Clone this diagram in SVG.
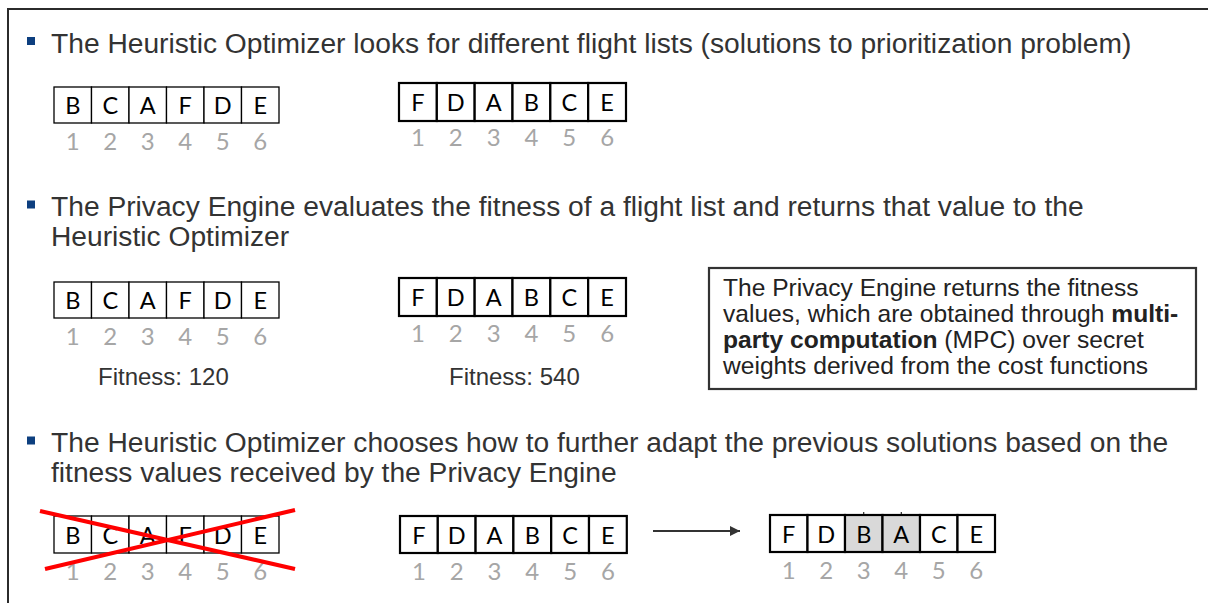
<svg xmlns="http://www.w3.org/2000/svg" width="1208" height="603" viewBox="0 0 1208 603">
<style>
.bg{fill:#ffffff}
.frame{stroke:#2b2b2b;stroke-width:2;fill:none}
.bul{fill:#0d3f7f}
.ttl{font-family:"Liberation Sans",Arial,sans-serif;font-size:28.2px;fill:#333333}
.thin{fill:#ffffff;stroke:#000000;stroke-width:1.3}
.thick{fill:#ffffff;stroke:#000000;stroke-width:2.2}
.hl{fill:#d9d9d9}
.let{font-family:Lato,"Open Sans",sans-serif;font-size:23.5px;fill:#000000;text-anchor:middle}
.num{font-family:Lato,"Open Sans",sans-serif;font-size:24px;fill:#a6a6a6;text-anchor:middle}
.fit{font-family:"Liberation Sans",Arial,sans-serif;font-size:24px;fill:#333333}
.box{fill:#ffffff;stroke:#333333;stroke-width:2.2}
.boxt{font-family:"Liberation Sans",Arial,sans-serif;font-size:24.6px;fill:#222222}
.cross{stroke:#ff0000;stroke-width:4;fill:none}
.conn{stroke:#333333;stroke-width:2;fill:none}
</style>
<defs>
<marker id="ah" viewBox="0 0 10 10" refX="10" refY="5" markerWidth="5.5" markerHeight="5" orient="auto" markerUnits="strokeWidth">
<path d="M0,0 L10,5 L0,10 z" fill="#333333"/>
</marker>
</defs>
<rect class="bg" x="0" y="0" width="1208" height="603"/>
<g id="frame">
<path class="frame" d="M8,603 L8,9 L1208,9"/>
</g>

<g id="bullet1">
<rect class="bul" x="27" y="37" width="8" height="8"/>
<text class="ttl" x="51" y="53">The Heuristic Optimizer looks for different flight lists (solutions to prioritization problem)</text>
</g>

<g id="list1a">
<rect class="thin" x="54" y="87" width="37.5" height="36"/>
<rect class="thin" x="91.5" y="87" width="37.5" height="36"/>
<rect class="thin" x="129" y="87" width="37.5" height="36"/>
<rect class="thin" x="166.5" y="87" width="37.5" height="36"/>
<rect class="thin" x="204" y="87" width="37.5" height="36"/>
<rect class="thin" x="241.5" y="87" width="37.5" height="36"/>
<text class="let" x="72.75" y="113.5">B</text><text class="let" x="110.25" y="113.5">C</text><text class="let" x="147.75" y="113.5">A</text><text class="let" x="185.25" y="113.5">F</text><text class="let" x="222.75" y="113.5">D</text><text class="let" x="260.25" y="113.5">E</text>
<text class="num" x="72.75" y="150">1</text><text class="num" x="110.25" y="150">2</text><text class="num" x="147.75" y="150">3</text><text class="num" x="185.25" y="150">4</text><text class="num" x="222.75" y="150">5</text><text class="num" x="260.25" y="150">6</text>
</g>

<g id="list1b">
<rect class="thick" x="399" y="83" width="37.83" height="38"/>
<rect class="thick" x="436.83" y="83" width="37.83" height="38"/>
<rect class="thick" x="474.67" y="83" width="37.83" height="38"/>
<rect class="thick" x="512.5" y="83" width="37.83" height="38"/>
<rect class="thick" x="550.33" y="83" width="37.83" height="38"/>
<rect class="thick" x="588.17" y="83" width="37.83" height="38"/>
<text class="let" x="417.9" y="110.5">F</text><text class="let" x="455.75" y="110.5">D</text><text class="let" x="493.6" y="110.5">A</text><text class="let" x="531.4" y="110.5">B</text><text class="let" x="569.25" y="110.5">C</text><text class="let" x="607.1" y="110.5">E</text>
<text class="num" x="417.9" y="146">1</text><text class="num" x="455.75" y="146">2</text><text class="num" x="493.6" y="146">3</text><text class="num" x="531.4" y="146">4</text><text class="num" x="569.25" y="146">5</text><text class="num" x="607.1" y="146">6</text>
</g>

<g id="bullet2">
<rect class="bul" x="27" y="200.5" width="8" height="8"/>
<text class="ttl" x="51" y="216">The Privacy Engine evaluates the fitness of a flight list and returns that value to the</text>
<text class="ttl" x="51" y="246">Heuristic Optimizer</text>
</g>

<g id="list2a">
<rect class="thin" x="54" y="282" width="37.5" height="36"/>
<rect class="thin" x="91.5" y="282" width="37.5" height="36"/>
<rect class="thin" x="129" y="282" width="37.5" height="36"/>
<rect class="thin" x="166.5" y="282" width="37.5" height="36"/>
<rect class="thin" x="204" y="282" width="37.5" height="36"/>
<rect class="thin" x="241.5" y="282" width="37.5" height="36"/>
<text class="let" x="72.75" y="308.5">B</text><text class="let" x="110.25" y="308.5">C</text><text class="let" x="147.75" y="308.5">A</text><text class="let" x="185.25" y="308.5">F</text><text class="let" x="222.75" y="308.5">D</text><text class="let" x="260.25" y="308.5">E</text>
<text class="num" x="72.75" y="345">1</text><text class="num" x="110.25" y="345">2</text><text class="num" x="147.75" y="345">3</text><text class="num" x="185.25" y="345">4</text><text class="num" x="222.75" y="345">5</text><text class="num" x="260.25" y="345">6</text>
<text class="fit" x="98" y="385">Fitness: 120</text>
</g>

<g id="list2b">
<rect class="thick" x="399" y="278" width="37.83" height="38"/>
<rect class="thick" x="436.83" y="278" width="37.83" height="38"/>
<rect class="thick" x="474.67" y="278" width="37.83" height="38"/>
<rect class="thick" x="512.5" y="278" width="37.83" height="38"/>
<rect class="thick" x="550.33" y="278" width="37.83" height="38"/>
<rect class="thick" x="588.17" y="278" width="37.83" height="38"/>
<text class="let" x="417.9" y="305.5">F</text><text class="let" x="455.75" y="305.5">D</text><text class="let" x="493.6" y="305.5">A</text><text class="let" x="531.4" y="305.5">B</text><text class="let" x="569.25" y="305.5">C</text><text class="let" x="607.1" y="305.5">E</text>
<text class="num" x="417.9" y="342">1</text><text class="num" x="455.75" y="342">2</text><text class="num" x="493.6" y="342">3</text><text class="num" x="531.4" y="342">4</text><text class="num" x="569.25" y="342">5</text><text class="num" x="607.1" y="342">6</text>
<text class="fit" x="449" y="385">Fitness: 540</text>
</g>

<g id="note">
<rect class="box" x="709" y="268" width="487" height="121"/>
<text class="boxt" x="723" y="296">The Privacy Engine returns the fitness</text>
<text class="boxt" x="723" y="322">values, which are obtained through <tspan font-weight="bold">multi-</tspan></text>
<text class="boxt" x="723" y="348"><tspan font-weight="bold">party computation</tspan> (MPC) over secret</text>
<text class="boxt" x="723" y="374">weights derived from the cost functions</text>
</g>

<g id="bullet3">
<rect class="bul" x="27" y="436.5" width="8" height="8"/>
<text class="ttl" x="51" y="452">The Heuristic Optimizer chooses how to further adapt the previous solutions based on the</text>
<text class="ttl" x="51" y="482">fitness values received by the Privacy Engine</text>
</g>

<g id="list3a">
<rect class="thin" x="54" y="516" width="37.5" height="37"/>
<rect class="thin" x="91.5" y="516" width="37.5" height="37"/>
<rect class="thin" x="129" y="516" width="37.5" height="37"/>
<rect class="thin" x="166.5" y="516" width="37.5" height="37"/>
<rect class="thin" x="204" y="516" width="37.5" height="37"/>
<rect class="thin" x="241.5" y="516" width="37.5" height="37"/>
<text class="let" x="72.75" y="543.5">B</text><text class="let" x="110.25" y="543.5">C</text><text class="let" x="147.75" y="543.5">A</text><text class="let" x="185.25" y="543.5">F</text><text class="let" x="222.75" y="543.5">D</text><text class="let" x="260.25" y="543.5">E</text>
<text class="num" x="72.75" y="580">1</text><text class="num" x="110.25" y="580">2</text><text class="num" x="147.75" y="580">3</text><text class="num" x="185.25" y="580">4</text><text class="num" x="222.75" y="580">5</text><text class="num" x="260.25" y="580">6</text>
<line class="cross" x1="40" y1="511" x2="295" y2="569"/>
<line class="cross" x1="45" y1="569" x2="295" y2="510"/>
</g>

<g id="list3b">
<rect class="thick" x="400" y="516" width="37.8" height="37"/>
<rect class="thick" x="437.8" y="516" width="37.8" height="37"/>
<rect class="thick" x="475.6" y="516" width="37.8" height="37"/>
<rect class="thick" x="513.4" y="516" width="37.8" height="37"/>
<rect class="thick" x="551.2" y="516" width="37.8" height="37"/>
<rect class="thick" x="589" y="516" width="37.8" height="37"/>
<text class="let" x="418.9" y="543.5">F</text><text class="let" x="456.7" y="543.5">D</text><text class="let" x="494.5" y="543.5">A</text><text class="let" x="532.3" y="543.5">B</text><text class="let" x="570.1" y="543.5">C</text><text class="let" x="607.9" y="543.5">E</text>
<text class="num" x="418.9" y="580">1</text><text class="num" x="456.7" y="580">2</text><text class="num" x="494.5" y="580">3</text><text class="num" x="532.3" y="580">4</text><text class="num" x="570.1" y="580">5</text><text class="num" x="607.9" y="580">6</text>
</g>

<g id="list3c">
<rect class="thick" x="770" y="515" width="37.5" height="37"/>
<rect class="thick" x="807.5" y="515" width="37.5" height="37"/>
<rect class="thick hl" x="845" y="515" width="37.5" height="37"/>
<rect class="thick hl" x="882.5" y="515" width="37.5" height="37"/>
<rect class="thick" x="920" y="515" width="37.5" height="37"/>
<rect class="thick" x="957.5" y="515" width="37.5" height="37"/>
<line x1="863.75" y1="512" x2="863.75" y2="515" stroke="#000" stroke-width="1"/>
<line x1="901.25" y1="512" x2="901.25" y2="515" stroke="#000" stroke-width="1"/>
<text class="let" x="788.75" y="542.5">F</text><text class="let" x="826.25" y="542.5">D</text><text class="let" x="863.75" y="542.5">B</text><text class="let" x="901.25" y="542.5">A</text><text class="let" x="938.75" y="542.5">C</text><text class="let" x="976.25" y="542.5">E</text>
<text class="num" x="788.75" y="579">1</text><text class="num" x="826.25" y="579">2</text><text class="num" x="863.75" y="579">3</text><text class="num" x="901.25" y="579">4</text><text class="num" x="938.75" y="579">5</text><text class="num" x="976.25" y="579">6</text>
</g>

<g id="connectors">
<line class="conn" x1="653" y1="531" x2="740" y2="531" marker-end="url(#ah)"/>
</g>
</svg>
